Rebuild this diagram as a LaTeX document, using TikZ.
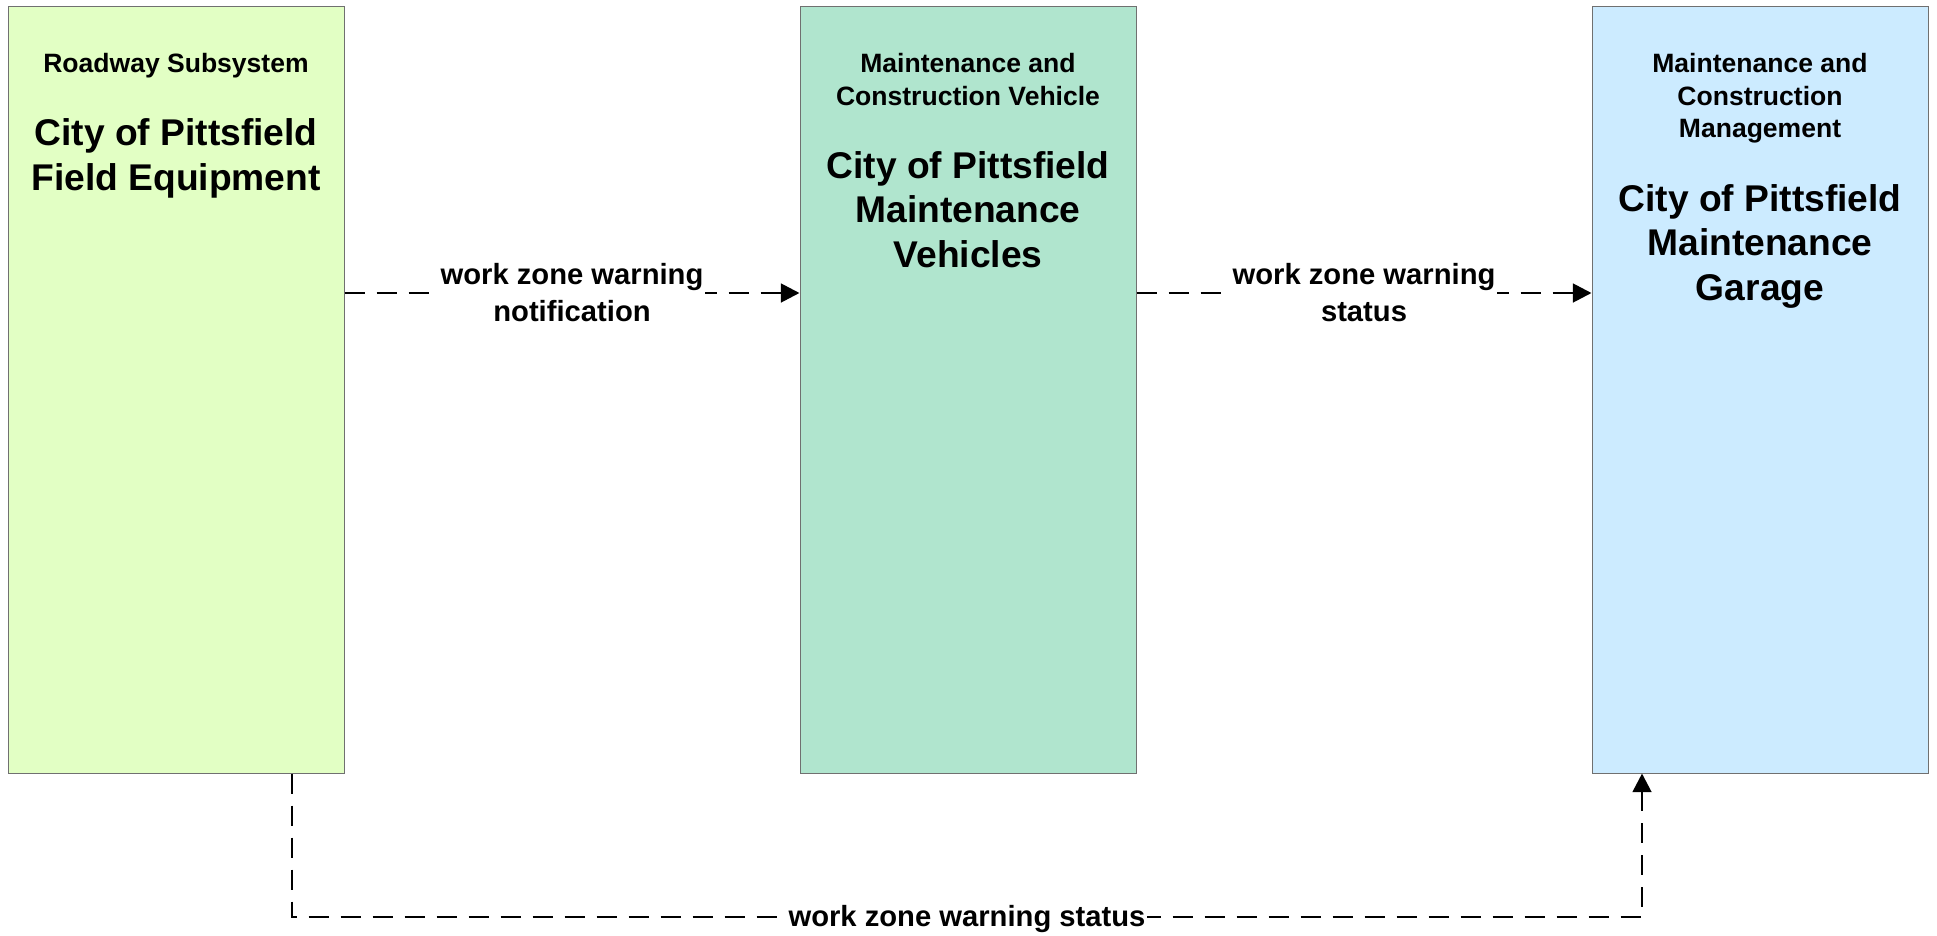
\documentclass[tikz,border=0pt]{standalone}
\usepackage{fontspec}
\setmainfont{Liberation Sans}
\usetikzlibrary{arrows.meta}
\definecolor{rsfill}{RGB}{226,255,196}
\definecolor{mcvfill}{RGB}{176,229,206}
\definecolor{mcmfill}{RGB}{204,235,255}
\definecolor{boxline}{RGB}{112,112,112}
\begin{document}
\begin{tikzpicture}[x=0.75pt,y=-0.75pt,
  box/.style={draw=boxline, line width=0.75pt, minimum width=252pt, minimum height=575.25pt, inner sep=0pt},
  hdr/.style={anchor=north, align=center, inner sep=0pt, font=\bfseries\fontsize{19.9}{24.5}\selectfont},
  ttl/.style={anchor=north, align=center, inner sep=0pt, font=\bfseries\fontsize{27.9}{33.5}\selectfont},
  flow/.style={line width=2.1pt, dash pattern=on 15pt off 9pt, -{Triangle[length=14pt,width=14pt]}},
  lbl/.style={fill=white, align=center, inner sep=1.5pt, font=\bfseries\fontsize{21.9}{27.75}\selectfont}]
\useasboundingbox (0,0) rectangle (1937,935);
% boxes
\node[box, fill=rsfill] (rs) at (176,389.5) {};
\node[box, fill=mcvfill] (mcv) at (968,389.5) {};
\node[box, fill=mcmfill] (mcm) at (1760,389.5) {};
% texts
\node[hdr] (rsh) at (176,53.5) {Roadway Subsystem};
\node[ttl] (rst) at (176,118.5) {City of Pittsfield\\Field Equipment};
\node[hdr] (mcvh) at (968,53) {Maintenance and\\Construction Vehicle};
\node[ttl] (mcvt) at (968,151) {City of Pittsfield\\Maintenance\\Vehicles};
\node[hdr] (mcmh) at (1760,53) {Maintenance and\\Construction\\Management};
\node[ttl] (mcmt) at (1760,184) {City of Pittsfield\\Maintenance\\Garage};
% connectors
\coordinate (r1) at (0,293);
\coordinate (b1) at (292,917);
\coordinate (b2) at (1642,917);
\draw[flow] (rs.east |- r1) -- node[lbl] {work zone warning\\notification} (mcv.west |- r1);
\draw[flow] (mcv.east |- r1) -- node[lbl] {work zone warning\\status} (mcm.west |- r1);
\draw[flow] (b1 |- rs.south) -- (b1) -- node[lbl, yshift=-1.5pt] {work zone warning status} (b2) -- (b2 |- mcm.south);
\end{tikzpicture}
\end{document}
